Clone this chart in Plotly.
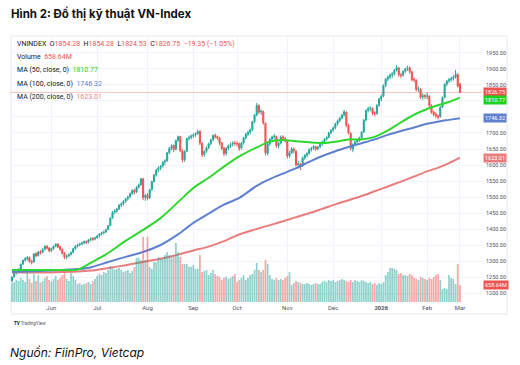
import plotly.graph_objects as go

# ---------------- data ----------------
opens = [1238,1251,1263,1269,1275,1291,1303,1307,1311,1299,
         1297,1323,1317,1329,1327,1337,1346,1341,1333,1339,
         1347,1353,1345,1337,1325,1313,1316,1321,1327,1339,
         1347,1351,1354,1357,1361,1359,1367,1371,1369,1373,
         1379,1385,1389,1391,1399,1411,1435,1453,1457,1463,
         1475,1479,1487,1495,1501,1511,1521,1516,1531,1539,
         1557,1499,1506,1497,1523,1549,1569,1585,1591,1597,
         1609,1613,1639,1653,1661,1649,1677,1689,1644,1617,
         1643,1683,1687,1691,1695,1699,1705,1667,1633,1643,
         1655,1667,1679,1693,1689,1685,1669,1653,1637,1653,
         1661,1665,1669,1667,1667,1653,1669,1685,1697,1703,
         1711,1736,1757,1785,1766,1767,1730,1636,1666,1681,
         1688,1689,1661,1669,1688,1683,1675,1629,1639,1649,
         1643,1601,1603,1597,1623,1631,1637,1649,1653,1657,
         1651,1657,1665,1673,1681,1687,1701,1709,1717,1729,
         1739,1747,1757,1765,1723,1699,1650,1665,1673,1679,
         1685,1703,1741,1771,1777,1777,1763,1761,1787,1807,
         1816,1849,1869,1875,1881,1885,1897,1903,1881,1881,
         1893,1901,1903,1891,1867,1865,1837,1837,1813,1817,
         1815,1815,1785,1765,1759,1753,1751,1781,1811,1853,
         1863,1867,1871,1875,1883,1854.28]
highs = [1252,1264,1271,1277,1292,1305,1312,1316,1314,1304,
         1325,1327,1331,1334,1340,1349,1350,1343,1342,1349,
         1356,1355,1347,1339,1328,1320,1324,1330,1341,1349,
         1354,1357,1360,1364,1364,1369,1374,1374,1376,1381,
         1387,1392,1395,1401,1413,1437,1456,1462,1466,1478,
         1483,1490,1497,1504,1514,1524,1526,1534,1542,1560,
         1560,1510,1512,1526,1551,1572,1588,1596,1600,1612,
         1618,1641,1656,1664,1664,1680,1692,1691,1650,1646,
         1686,1692,1695,1699,1702,1711,1708,1672,1646,1658,
         1670,1682,1696,1698,1692,1688,1672,1656,1656,1664,
         1670,1674,1676,1674,1670,1672,1688,1700,1707,1714,
         1738,1760,1794,1790,1774,1770,1733,1672,1684,1692,
         1697,1692,1672,1692,1693,1688,1678,1644,1656,1655,
         1646,1612,1606,1626,1634,1640,1652,1657,1662,1660,
         1660,1668,1676,1684,1690,1704,1712,1720,1732,1742,
         1750,1760,1772,1768,1728,1702,1668,1676,1682,1688,
         1706,1744,1774,1782,1784,1780,1768,1790,1810,1820,
         1852,1872,1880,1886,1890,1900,1912,1906,1888,1896,
         1904,1910,1908,1894,1874,1868,1846,1840,1824,1822,
         1826,1818,1790,1770,1764,1758,1784,1814,1856,1866,
         1872,1876,1880,1897,1886,1854.28]
lows = [1234,1248,1258,1263,1272,1287,1298,1301,1295,1289,
        1295,1312,1314,1320,1324,1333,1336,1327,1328,1335,
        1343,1340,1332,1320,1306,1306,1311,1317,1324,1335,
        1342,1346,1349,1352,1353,1355,1362,1363,1365,1369,
        1374,1380,1383,1387,1396,1409,1432,1446,1450,1459,
        1468,1474,1482,1489,1496,1506,1508,1512,1526,1535,
        1490,1488,1490,1494,1520,1545,1564,1578,1584,1592,
        1600,1610,1634,1646,1640,1646,1672,1640,1608,1610,
        1640,1676,1680,1684,1688,1694,1662,1625,1626,1638,
        1650,1662,1674,1682,1678,1662,1646,1628,1630,1646,
        1654,1658,1660,1658,1644,1648,1664,1680,1690,1696,
        1706,1731,1752,1760,1756,1726,1630,1630,1660,1674,
        1680,1654,1652,1664,1676,1670,1620,1622,1634,1636,
        1596,1590,1584,1594,1616,1624,1632,1642,1647,1644,
        1646,1652,1660,1668,1676,1683,1696,1704,1712,1724,
        1734,1742,1752,1718,1696,1645,1640,1658,1666,1672,
        1680,1700,1736,1764,1768,1756,1752,1757,1782,1800,
        1812,1844,1862,1868,1872,1880,1892,1876,1872,1876,
        1888,1894,1886,1862,1858,1830,1828,1806,1804,1806,
        1806,1780,1760,1752,1746,1742,1748,1778,1808,1846,
        1856,1860,1864,1870,1842,1824.53]
closes = [1250,1262,1268,1274,1290,1302,1306,1310,1298,1296,
          1322,1316,1328,1326,1336,1345,1340,1332,1338,1346,
          1352,1344,1336,1324,1312,1315,1320,1326,1338,1346,
          1350,1353,1356,1360,1358,1366,1370,1368,1372,1378,
          1384,1388,1390,1398,1410,1434,1452,1456,1462,1474,
          1478,1486,1494,1500,1510,1520,1515,1530,1538,1556,
          1498,1505,1496,1522,1548,1568,1584,1590,1596,1608,
          1612,1638,1652,1660,1648,1676,1688,1645,1616,1642,
          1682,1686,1690,1694,1698,1704,1668,1632,1642,1654,
          1666,1678,1692,1688,1684,1668,1652,1636,1652,1660,
          1664,1668,1668,1666,1652,1668,1684,1696,1702,1710,
          1735,1756,1786,1765,1768,1731,1638,1665,1680,1687,
          1690,1660,1668,1687,1684,1676,1628,1638,1650,1644,
          1600,1604,1596,1622,1630,1636,1648,1652,1658,1650,
          1656,1664,1672,1680,1686,1700,1708,1716,1728,1738,
          1746,1756,1766,1724,1700,1652,1664,1672,1678,1684,
          1702,1740,1770,1776,1778,1762,1760,1786,1806,1815,
          1848,1868,1874,1880,1884,1896,1904,1882,1880,1892,
          1900,1904,1892,1866,1866,1836,1838,1812,1816,1814,
          1816,1786,1764,1758,1754,1750,1780,1810,1852,1862,
          1866,1870,1874,1884,1846.10,1826.75]
volumes_m = [740,780,860,820,940,860,780,1130,900,740,
             1090,820,1050,760,820,940,1010,860,800,900,
             1020,860,940,1050,1130,900,820,1130,1010,860,
             700,740,660,700,740,780,700,820,900,1010,
             1090,1050,1170,1130,1250,1400,1330,1250,1290,1330,
             1250,1170,1210,1250,1130,1210,1370,1720,1720,1640,
             2540,1640,2540,1370,1290,1560,1560,1760,1680,1680,
             1830,1950,1830,1760,1830,2300,1950,1760,1480,1480,
             1480,1370,1370,1440,1290,1290,1830,1170,1210,1250,
             1050,1130,1250,1090,1010,980,860,940,980,900,
             940,1010,1090,780,860,940,1050,860,940,1050,
             1090,1250,1520,1250,1170,1250,1640,1480,1050,900,
             860,940,860,900,860,940,1010,1170,660,740,
             820,780,740,700,700,740,700,660,700,740,
             700,700,780,820,780,860,820,860,780,820,
             860,900,860,820,780,860,780,860,820,780,
             860,820,780,740,780,700,740,660,740,700,
             780,1050,1170,1330,1330,1290,1250,1090,1130,1050,
             1050,1010,1090,1050,940,900,860,980,940,900,
             860,940,900,980,1050,1090,860,510,550,510,
             1050,940,900,700,1480,658.64]

# moving averages read at sampled trading-day positions
ma_idx = [0, 10, 20, 30, 36, 44, 52, 60, 68, 76, 83, 90, 97, 104, 112, 118,
          124, 130, 136, 142, 148, 154, 160, 166, 172, 178, 184, 190, 196, 200, 205]
ma50 = [1272, 1272, 1272, 1273, 1294, 1325, 1363, 1397, 1434, 1484, 1528, 1560,
        1595, 1627, 1655, 1673, 1678, 1674, 1671, 1669, 1673, 1680, 1680, 1688,
        1708, 1733, 1757, 1775, 1789, 1797, 1810.77]
ma100 = [1266, 1268, 1271, 1275, 1280, 1297, 1313, 1328, 1350, 1383, 1419, 1448,
         1476, 1497, 1535, 1556, 1573, 1590, 1610, 1628, 1643, 1656, 1668, 1680,
         1694, 1706, 1717, 1729, 1737, 1741, 1746.32]
ma200 = [1264, 1264, 1265, 1267, 1270, 1278, 1287, 1297, 1307, 1320, 1333, 1345,
         1362, 1383, 1400, 1412, 1424, 1437, 1449, 1463, 1477, 1490, 1503, 1518,
         1533, 1548, 1564, 1580, 1594, 1606, 1623.01]

tick_idx = [18, 39, 62, 83, 103, 126, 147, 169, 190, 205]
tick_text = ["Jun", "Jul", "Aug", "Sep", "Oct", "Nov", "Dec", "<b>2026</b>", "Feb", "Mar"]
price_ticks = [1200, 1250, 1300, 1350, 1400, 1450, 1500, 1550, 1600,
               1650, 1700, 1750, 1800, 1850, 1900, 1950]

# ---------------- styling ----------------
UP, DOWN = "#26a69a", "#ef5350"
VUP, VDOWN = "rgba(38,166,154,0.5)", "rgba(239,83,80,0.5)"
C50, C100, C200 = "#2fd62f", "#5f80cf", "#e97d7d"
TXT = "#131722"

idx = list(range(len(closes)))
vcolors = [VUP if c >= o else VDOWN for o, c in zip(opens, closes)]

fig = go.Figure()
fig.add_trace(go.Bar(x=idx, y=volumes_m, marker_color=vcolors, marker_line_width=0,
                     width=0.8, yaxis="y2", hoverinfo="skip"))
fig.add_trace(go.Scatter(x=ma_idx, y=ma200, mode="lines",
                         line=dict(color=C200, width=2, shape="spline", smoothing=0.8)))
fig.add_trace(go.Scatter(x=ma_idx, y=ma100, mode="lines",
                         line=dict(color=C100, width=2, shape="spline", smoothing=0.8)))
fig.add_trace(go.Scatter(x=ma_idx, y=ma50, mode="lines",
                         line=dict(color=C50, width=2, shape="spline", smoothing=0.8)))
fig.add_trace(go.Candlestick(x=idx, open=opens, high=highs, low=lows, close=closes,
                             increasing=dict(line=dict(color=UP, width=1), fillcolor=UP),
                             decreasing=dict(line=dict(color=DOWN, width=1), fillcolor=DOWN),
                             whiskerwidth=0, hoverinfo="skip"))

L, R, T, B = 10, 38, 36, 62
W, H = 520 - L - R, 365 - T - B

def py(px):  # pixel row -> paper y
    return (365 - B - px) / H

def pxx(px):  # pixel col -> paper x
    return (px - L) / W

fig.update_layout(
    width=520, height=365, margin=dict(l=L, r=R, t=T, b=B),
    paper_bgcolor="white", plot_bgcolor="white", showlegend=False,
    font=dict(family="Roboto", color=TXT),
    xaxis=dict(range=[-0.92, 215.1], tickvals=tick_idx, ticktext=tick_text,
               showgrid=True, gridcolor="#f0f3fa", gridwidth=1, zeroline=False,
               showline=False, ticks="", tickfont=dict(size=6, color="#50535e"),
               rangeslider=dict(visible=False), fixedrange=True),
    yaxis=dict(range=[1168.75, 2003.1], side="right", tickvals=price_ticks,
               tickformat=".2f", showgrid=True, gridcolor="#f0f3fa", zeroline=False,
               ticks="", tickfont=dict(size=5.5, color="#50535e"), ticklabelstandoff=3),
    yaxis2=dict(range=[-40, 10373], overlaying="y", visible=False),
    hovermode=False,
)

# panel border
fig.add_shape(type="rect", xref="paper", yref="paper", x0=pxx(11), x1=pxx(507),
              y0=py(314), y1=py(36), line=dict(color="#e6e8ee", width=1), layer="below")
# last price line
fig.add_shape(type="line", xref="paper", yref="y", x0=0, x1=1, y0=closes[-1], y1=closes[-1],
              line=dict(color="rgba(239,83,80,0.35)", width=1))

def box(yv, text, color, yref="y", yshift=0):
    fig.add_annotation(xref="paper", yref=yref, x=1, y=yv, xanchor="left", yanchor="middle",
                       text=text, showarrow=False, xshift=1, yshift=yshift,
                       font=dict(size=5.5, color="white"), bgcolor=color, borderpad=1)

box(closes[-1], f"{closes[-1]:.2f}", DOWN)
box(ma50[-1], f"{ma50[-1]:.2f}", "#1fd01f", yshift=-2.5)
box(ma100[-1], f"{ma100[-1]:.2f}", C100)
box(ma200[-1], f"{ma200[-1]:.2f}", C200)
box(volumes_m[-1], f"{volumes_m[-1]:.2f}M", DOWN, yref="y2")

# legend lines (TradingView style)
red = "#ef5350"
chg = closes[-1] - closes[-2]
pct = chg / closes[-2] * 100
leg = [
    f"VNINDEX  O<span style='color:{red}'>{opens[-1]:.2f}</span>  H<span style='color:{red}'>{highs[-1]:.2f}</span>"
    f"  L<span style='color:{red}'>{lows[-1]:.2f}</span>  C<span style='color:{red}'>{closes[-1]:.2f}</span>"
    f"  <span style='color:{red}'>−{abs(chg):.2f} (−{abs(pct):.2f}%)</span>",
    f"Volume  <span style='color:{red}'>{volumes_m[-1]:.2f}M</span>",
    f"MA (50, close, 0)  <span style='color:#1fd01f'>{ma50[-1]:.2f}</span>",
    f"MA (100, close, 0)  <span style='color:{C100}'>{ma100[-1]:.2f}</span>",
    f"MA (200, close, 0)  <span style='color:{C200}'>{ma200[-1]:.2f}</span>",
]
for k, t in enumerate(leg):
    fig.add_annotation(xref="paper", yref="paper", x=pxx(15), y=py(44 + 13.2 * k),
                       xanchor="left", yanchor="middle", text=t, showarrow=False,
                       font=dict(size=7, color=TXT))

# title, logo, source
fig.add_annotation(xref="paper", yref="paper", x=pxx(9), y=py(13), xanchor="left",
                   yanchor="middle", showarrow=False,
                   text="<b>Hình 2: Đồ thị kỹ thuật VN-Index</b>",
                   font=dict(family="Inter", size=11.5, color="#111111"))
fig.add_annotation(xref="paper", yref="paper", x=pxx(12), y=py(323), xanchor="left",
                   yanchor="middle", showarrow=False,
                   text="<b>TV</b> <span style='color:#555'>TradingView</span>",
                   font=dict(size=4.5, color="#131722"))
fig.add_annotation(xref="paper", yref="paper", x=pxx(8), y=py(352), xanchor="left",
                   yanchor="middle", showarrow=False,
                   text="<i>Nguồn: FiinPro, Vietcap</i>",
                   font=dict(family="Inter", size=12, color="#111111"))

fig.write_html("out.html", config={"displayModeBar": False},
               post_script="document.body.style.margin='0';")
